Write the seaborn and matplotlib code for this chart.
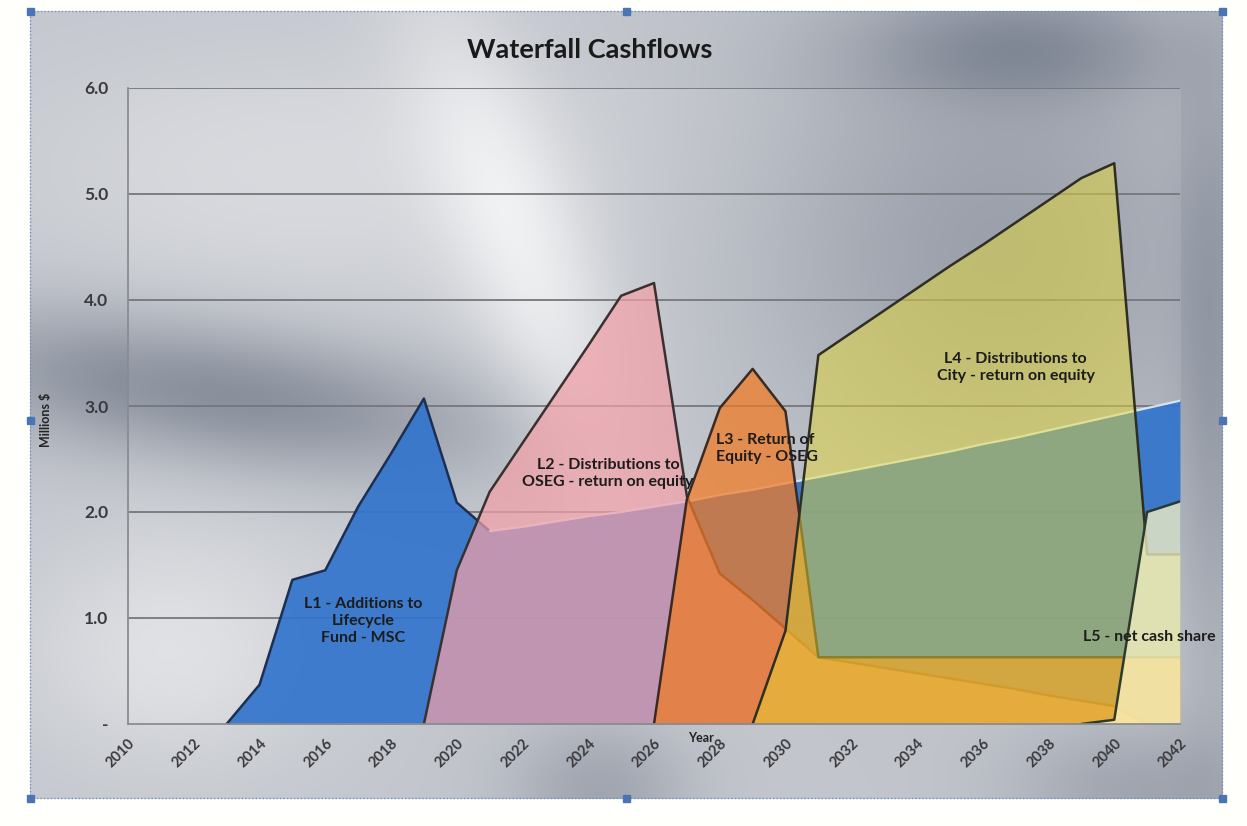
import numpy as np
import pandas as pd
import matplotlib
matplotlib.use("Agg")
import matplotlib.pyplot as plt
import seaborn as sns
from matplotlib.patches import Rectangle

# ---- data (millions of dollars per year) ----
years_l1 = list(range(2013, 2043))
vals_l1 = [0.00, 0.37, 1.36, 1.45, 2.05, 2.55, 3.07, 2.09, 1.82, 1.86, 1.91, 1.96,
           2.00, 2.05, 2.10, 2.16, 2.21, 2.27, 2.33, 2.39, 2.45, 2.51, 2.57, 2.64,
           2.70, 2.77, 2.84, 2.91, 2.98, 3.05]

years_l2 = list(range(2019, 2042))
vals_l2 = [0.00, 1.45, 2.19, 2.65, 3.11, 3.57, 4.04, 4.16, 2.15, 1.42, 1.17, 0.90,
           0.63, 0.58, 0.53, 0.48, 0.43, 0.38, 0.33, 0.27, 0.22, 0.17, 0.00]

years_l3 = list(range(2026, 2043))
vals_l3 = [0.00, 2.12, 2.98, 3.35, 2.95, 0.63, 0.63, 0.63, 0.63, 0.63, 0.63, 0.63,
           0.63, 0.63, 0.63, 0.63, 0.63]

years_l4 = list(range(2029, 2043))
vals_l4 = [0.00, 0.88, 3.48, 3.69, 3.90, 4.11, 4.32, 4.52, 4.73, 4.94, 5.15, 5.29,
           1.60, 1.60]

years_l5 = list(range(2039, 2043))
vals_l5 = [0.00, 0.04, 2.00, 2.10]

series_names = ["L1", "L2", "L3", "L4", "L5"]
series_labels = [
    "L1 - Additions to\nLifecycle\nFund - MSC",
    "L2 - Distributions to\nOSEG - return on equity",
    "L3 - Return of\nEquity - OSEG",
    "L4 - Distributions to\nCity - return on equity",
    "L5 - net cash share",
]
x_tick_years = list(range(2010, 2043, 2))
y_tick_vals = [0, 1, 2, 3, 4, 5, 6]
y_tick_text = ["-", "1.0", "2.0", "3.0", "4.0", "5.0", "6.0"]

frames = []
for name, yrs, vals in zip(series_names,
                           [years_l1, years_l2, years_l3, years_l4, years_l5],
                           [vals_l1, vals_l2, vals_l3, vals_l4, vals_l5]):
    frames.append(pd.DataFrame({"year": yrs, "value": vals, "series": name}))
df = pd.concat(frames, ignore_index=True)

fill_colors = {"L1": "#3274CC", "L2": "#F2A0A8", "L3": "#F27A22",
               "L4": "#E8DA30", "L5": "#FBF5C4"}
fill_alpha = {"L1": 0.92, "L2": 0.72, "L3": 0.72, "L4": 0.48, "L5": 0.75}
edge_colors = {"L1": "#1B2F52", "L2": "#3A3030", "L3": "#3A2A22",
               "L4": "#2E2E22", "L5": "#2E3A2E"}

sns.set_style("white")
plt.rcParams["font.family"] = ["Lato", "DejaVu Sans"]

W, H = 1247, 826
PL, PR, PT, PB = 128, 1180, 88, 724
fig = plt.figure(figsize=(W / 100, H / 100), dpi=100)

# ---- metallic backdrop for the chart area ----
def metallic(h, w):
    yy, xx = np.mgrid[0:h, 0:w].astype(float)
    L = np.full((h, w), 0.79)

    def blob(cx, cy, sx, sy, amp, ang=0.0):
        c, s = np.cos(ang), np.sin(ang)
        dx, dy = xx - cx, yy - cy
        u = (c * dx + s * dy) / sx
        v = (-s * dx + c * dy) / sy
        return amp * np.exp(-(u * u + v * v))

    L += blob(300, 170, 320, 130, 0.06)
    L += blob(230, 395, 280, 70, -0.24, np.deg2rad(8))
    L += blob(530, 270, 70, 280, 0.13, np.deg2rad(-20))
    L += blob(1000, 250, 260, 260, -0.17)
    L += blob(1215, 420, 40, 380, -0.10)
    L += blob(170, 650, 160, 120, 0.09)
    L += blob(600, 790, 90, 70, -0.12)
    L += blob(1140, 790, 130, 70, -0.12)
    L += blob(1020, 45, 160, 60, -0.14)
    inside_plot = (xx >= PL) & (xx <= PR) & (yy >= PT) & (yy <= PB)
    L = np.where(inside_plot, L * 0.92 + 0.08, L)
    L = np.clip(L, 0, 1)
    d = 1 - L
    rgb = np.stack([L - d * 0.12, L - d * 0.06, L + d * 0.06], axis=-1)
    rgb = np.clip(rgb, 0, 1)
    inside = (xx >= 30) & (xx <= 1222) & (yy >= 11) & (yy <= 798)
    rgb[~inside] = [1.0, 1.0, 0.99]
    return rgb

bg = fig.add_axes([0, 0, 1, 1])
bg.imshow(metallic(H, W), extent=(0, W, H, 0), aspect="auto", interpolation="bilinear")
bg.set_xlim(0, W)
bg.set_ylim(H, 0)
bg.axis("off")
bg.set_zorder(0)

# selection frame with handles
frame_col = "#6F8FC4"
bg.plot([30, 1222, 1222, 30, 30], [11, 11, 798, 798, 11], ls=(0, (1, 1.5)),
        color=frame_col, lw=1.0)
for hx, hy in [(30, 11), (626, 11), (1222, 11), (30, 420), (1222, 420),
               (30, 798), (626, 798), (1222, 798)]:
    bg.add_patch(Rectangle((hx - 3.5, hy - 3.5), 7, 7, color="#4A74B4", zorder=5))

# ---- main plot ----
ax = fig.add_axes([PL / W, 1 - PB / H, (PR - PL) / W, (PB - PT) / H])
ax.set_facecolor("none")
ax.set_zorder(1)

for i, name in enumerate(series_names):
    sub = df[df["series"] == name]
    ax.fill_between(sub["year"], 0, sub["value"], color=fill_colors[name],
                    alpha=fill_alpha[name], lw=0, zorder=3 + 2 * i)
    if name == "L1":
        # dark rim where the series stands alone, soft highlight where it runs underneath
        front = sub[sub["year"] <= 2021]
        back = sub[sub["year"] >= 2021]
        sns.lineplot(data=front, x="year", y="value", ax=ax, color=edge_colors[name],
                     lw=1.8, zorder=4, legend=False, estimator=None, sort=False)
        sns.lineplot(data=back, x="year", y="value", ax=ax, color="#DDEBFA",
                     lw=1.6, alpha=0.9, zorder=4, legend=False, estimator=None,
                     sort=False)
    else:
        sns.lineplot(data=sub, x="year", y="value", ax=ax, color=edge_colors[name],
                     lw=1.8, zorder=4 + 2 * i, legend=False, estimator=None,
                     sort=False)

ax.set_xlim(2010, 2042)
ax.set_ylim(0, 6)
ax.set_yticks(y_tick_vals)
ax.set_yticklabels(y_tick_text)
ax.set_xticks(x_tick_years)
ax.set_xticks(list(range(2010, 2043)), minor=True)
ax.set_xticklabels([str(y) for y in x_tick_years], rotation=45, ha="right",
                   va="top", rotation_mode="anchor")

for yv in y_tick_vals[1:]:
    ax.axhline(yv, color="#75777C", lw=1.3, zorder=2)

for s in ["top", "right"]:
    ax.spines[s].set_visible(False)
for s in ["left", "bottom"]:
    ax.spines[s].set_color("#8A8C90")
    ax.spines[s].set_linewidth(1.3)
    ax.spines[s].set_zorder(20)

ax.tick_params(axis="y", which="major", direction="out", length=6, width=1.1,
               color="#8A8C90", labelsize=12.5, labelcolor="#3A3A3E", pad=8)
ax.tick_params(axis="x", which="both", direction="out", length=5, width=1.0,
               color="#8A8C90", labelsize=10.5, labelcolor="#3A3A3E", pad=4)
for lab in ax.get_yticklabels() + ax.get_xticklabels():
    lab.set_fontweight("bold")

ax.set_xlabel("Year", fontsize=9, fontweight="bold", color="#222222")
ax.xaxis.set_label_coords(0.545, -0.012)
ax.set_ylabel("Millions $", fontsize=9, fontweight="bold", color="#222222")
ax.yaxis.set_label_coords(-0.072, 0.478)

fig.text(0.473, 1 - 50 / H, "Waterfall Cashflows", ha="center", va="center",
         fontsize=19.5, fontweight="bold", color="#1A1A1A")

# series labels
ann_kw = dict(fontsize=11.5, fontweight="bold", color="#1C1C1C", zorder=30,
              linespacing=1.3)
ax.text(2017.15, 0.97, series_labels[0], ha="center", va="center", **ann_kw)
ax.text(2024.6, 2.36, series_labels[1], ha="center", va="center", **ann_kw)
ax.text(2027.9, 2.60, series_labels[2], ha="left", va="center", **ann_kw)
ax.text(2037.0, 3.36, series_labels[3], ha="center", va="center", **ann_kw)
ax.text(2039.05, 0.82, series_labels[4], ha="left", va="center", clip_on=False,
        **ann_kw)

fig.savefig("out.png", dpi=100)
